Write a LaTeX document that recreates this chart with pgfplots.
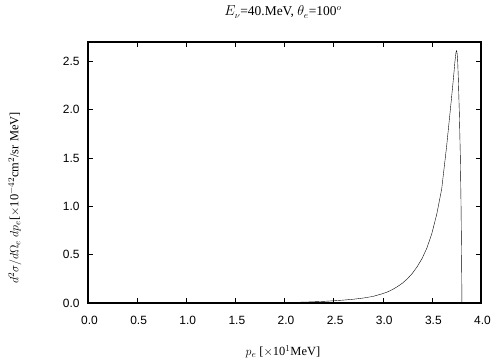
\documentclass[border=0pt]{standalone}
\usepackage{fontspec}
\setmainfont{Liberation Serif}
\newfontfamily\ticksf{Liberation Sans}
\usepackage{pgfplots}
\pgfplotsset{compat=1.18}
\begin{document}
\begin{tikzpicture}
\path[use as bounding box] (-88bp,-57bp) rectangle (416bp,303bp);
\begin{axis}[
  scale only axis, width=393bp, height=261bp,
  xmin=0, xmax=4, ymin=0, ymax=2.7,
  xtick={0,0.5,...,4}, ytick={0,0.5,...,2.5},
  tick align=inside, major tick length=5bp,
  tick style={black, line width=0.5pt},
  axis line style={line width=1.1pt},
  /pgf/number format/assume math mode=true,
  /pgf/number format/.cd, fixed, fixed zerofill, precision=1, /pgfplots/.cd,
  tick label style={font=\ticksf\fontsize{12}{14}\selectfont},
  xticklabel style={yshift=-10bp, xshift=1.5bp},
  yticklabel style={xshift=-5bp},
  title={$E_\nu$=40.MeV, $\theta_e$=100$^o$},
  title style={at={(axis description cs:0.496,1.092)}, anchor=center, font=\fontsize{13.5}{15}\selectfont},
  xlabel={$p_e$ [$\times$10$^1$MeV]},
  xlabel style={at={(axis description cs:0.496,-0.188)}, anchor=center, font=\fontsize{12.5}{14}\selectfont},
  ylabel={$d^2\sigma/d\Omega_e\ dp_e$[$\times$10$^{-42}$cm$^2$/sr MeV]},
  ylabel style={at={(axis description cs:-0.186,0.402)}, anchor=center, rotate=0, font=\fontsize{12.5}{14}\selectfont},
]
\addplot[black, line width=0.4pt] coordinates {
(1.50,0.0005) (1.80,0.002) (2.00,0.005) (2.20,0.009) (2.40,0.017) (2.50,0.023)
(2.60,0.030) (2.70,0.039) (2.80,0.051) (2.90,0.068) (3.00,0.097) (3.05,0.115)
(3.10,0.140) (3.15,0.170) (3.20,0.205) (3.25,0.250) (3.30,0.305) (3.35,0.375)
(3.40,0.460) (3.45,0.570) (3.50,0.720) (3.55,0.920) (3.60,1.180) (3.625,1.40)
(3.65,1.62) (3.675,1.87) (3.70,2.12) (3.72,2.33) (3.735,2.50) (3.745,2.59)
(3.750,2.61) (3.755,2.60) (3.762,2.52) (3.770,2.30) (3.780,1.95) (3.790,1.50)
(3.797,1.00) (3.802,0.50) (3.805,0.15) (3.806,0.0)
};
\end{axis}
\end{tikzpicture}
\end{document}
